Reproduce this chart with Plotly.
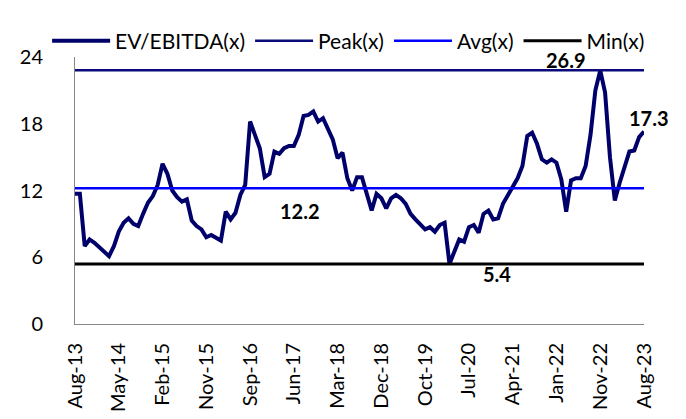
import pandas as pd
import plotly.graph_objects as go

# ---- data -------------------------------------------------------------
tick_labels = ["Aug-13", "May-14", "Feb-15", "Nov-15", "Sep-16", "Jun-17", "Mar-18",
               "Dec-18", "Oct-19", "Jul-20", "Apr-21", "Jan-22", "Nov-22", "Aug-23"]
missing_months = ["Feb-16", "Mar-19", "Mar-22"]

ev_ebitda = [
    11.7, 11.7, 7.0, 7.6, 7.3, 6.9, 6.4, 6.1, 7.0, 8.3,
    9.1, 9.5, 9.0, 8.8, 9.9, 10.9, 11.5, 12.5, 14.4, 13.5,
    12.0, 11.4, 11.0, 11.2, 9.3, 8.8, 8.5, 7.8, 8.0, 7.8,
    7.5, 10.1, 9.4, 10.0, 11.6, 12.5, 18.2, 17.0, 15.8, 13.2,
    13.5, 15.5, 15.3, 15.8, 16.0, 16.0, 17.0, 18.7, 18.8, 19.1,
    18.2, 18.5, 17.6, 16.6, 14.9, 15.4, 13.1, 12.0, 13.2, 13.2,
    11.7, 10.2, 11.7, 11.3, 10.4, 11.3, 11.6, 11.3, 10.8, 9.9,
    9.4, 9.0, 8.5, 8.7, 8.3, 8.9, 9.1, 5.4, 6.4, 7.6,
    7.4, 8.7, 8.9, 8.2, 9.9, 10.2, 9.4, 9.5, 10.8, 11.6,
    12.3, 13.1, 14.2, 16.9, 17.2, 16.2, 14.8, 14.5, 14.8, 14.5,
    13.0, 10.1, 12.9, 13.1, 13.1, 14.2, 17.0, 21.0, 22.8, 20.8,
    15.0, 11.1, 12.7, 14.0, 15.5, 15.6, 16.8, 17.3,
]
peak_value = 22.8
avg_value = 12.2
min_value = 5.4
peak_label = "26.9"
avg_label = "12.2"
min_label = "5.4"
last_label = "17.3"

# categories (monthly, a few months absent in the source series)
all_months = [d.strftime("%b-%y") for d in pd.date_range("2013-08-01", "2023-08-01", freq="MS")]
months = [m for m in all_months if m not in missing_months]
n = len(months)

FONT = "Lato"

fig = go.Figure()
fig.add_trace(go.Scatter(x=months, y=ev_ebitda, mode="lines", name="EV/EBITDA(x)",
                         line=dict(color="#00006B", width=4)))
fig.add_trace(go.Scatter(x=months, y=[peak_value] * n, mode="lines", name="Peak(x)",
                         line=dict(color="#0A0A7A", width=2.5)))
fig.add_trace(go.Scatter(x=months, y=[avg_value] * n, mode="lines", name="Avg(x)",
                         line=dict(color="#0000FF", width=2.5)))
fig.add_trace(go.Scatter(x=months, y=[min_value] * n, mode="lines", name="Min(x)",
                         line=dict(color="#000000", width=3)))

bold = dict(family=FONT, size=20, color="#000000", weight="bold")
fig.add_annotation(x=101, y=peak_value, text=peak_label, showarrow=False,
                   yanchor="bottom", yshift=-4, font=bold)
fig.add_annotation(x=n - 1, y=ev_ebitda[-1], text=last_label, showarrow=False,
                   xanchor="left", xshift=-17, yanchor="bottom", yshift=0, font=bold)
fig.add_annotation(x=46.3, y=avg_value, text=avg_label, showarrow=False,
                   yanchor="top", yshift=-9, font=bold)
fig.add_annotation(x=86.8, y=min_value, text=min_label, showarrow=False,
                   yanchor="top", yshift=4, font=bold)

fig.update_layout(
    width=686, height=419,
    margin=dict(l=63, r=50, t=45, b=103),
    paper_bgcolor="white", plot_bgcolor="white",
    font=dict(family=FONT, size=20, color="#000000"),
    showlegend=True,
    legend=dict(orientation="h", x=-0.049, xanchor="left", y=1.06, yanchor="middle",
                font=dict(family=FONT, size=21, color="#000000"),
                bgcolor="rgba(0,0,0,0)", itemwidth=58, tracegroupgap=0),
    xaxis=dict(type="category", range=[0, n - 1], tickmode="array",
               tickvals=tick_labels, ticktext=tick_labels, tickangle=-90,
               showgrid=False, showline=True, linecolor="#868686", linewidth=1,
               ticks="", ticklabelstandoff=10, zeroline=False),
    yaxis=dict(range=[0, 24], tickmode="array", tickvals=[0, 6, 12, 18, 24],
               showgrid=False, showline=True, linecolor="#868686", linewidth=1,
               ticks="", ticklabelstandoff=27, zeroline=False),
)

fig.write_html("out.html")
